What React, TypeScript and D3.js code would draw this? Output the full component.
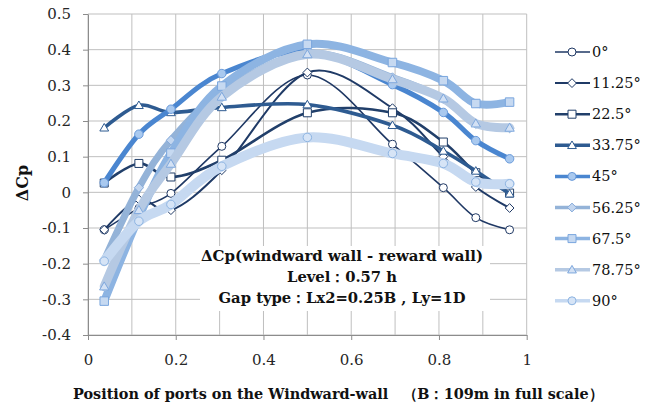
import { useEffect, useRef } from "react";
import * as d3 from "d3";

// port positions along the windward wall (x / B)
const portX = [0.037, 0.116, 0.189, 0.305, 0.5, 0.694, 0.81, 0.884, 0.961];

const angles = ["0°", "11.25°", "22.5°", "33.75°", "45°", "56.25°", "67.5°", "78.75°", "90°"];

const cp0 = [-0.105, -0.045, -0.003, 0.129, 0.329, 0.135, 0.013, -0.071, -0.105];
const cp11 = [-0.105, -0.02, -0.05, 0.062, 0.336, 0.236, 0.1, 0.015, -0.044];
const cp22 = [0.026, 0.081, 0.043, 0.09, 0.223, 0.223, 0.141, 0.055, -0.002];
const cp33 = [0.181, 0.244, 0.224, 0.238, 0.246, 0.188, 0.116, 0.06, -0.004];
const cp45 = [0.027, 0.163, 0.233, 0.333, 0.395, 0.302, 0.224, 0.145, 0.094];
const cp56 = [-0.19, 0.013, 0.146, 0.28, 0.39, 0.322, 0.262, 0.192, 0.18];
const cp67 = [-0.305, -0.07, 0.11, 0.298, 0.415, 0.364, 0.313, 0.249, 0.253];
const cp78 = [-0.264, -0.05, 0.08, 0.268, 0.387, 0.317, 0.263, 0.193, 0.181];
const cp90 = [-0.193, -0.081, -0.034, 0.073, 0.154, 0.109, 0.081, 0.029, 0.024];

const allSeries = [cp0, cp11, cp22, cp33, cp45, cp56, cp67, cp78, cp90];

const noteLines = [
	"ΔCp(windward wall - reward wall)",
	"Level：0.57 h",
	"Gap type：Lx2=0.25B , Ly=1D",
];
const xTitle = "Position of ports on the Windward-wall　（B：109m in full scale）";
const yTitle = "ΔCp";

type Shape = "circle" | "diamond" | "square" | "triangle";

const styles: { stroke: string; width: number; shape: Shape; fill: string; mstroke: string }[] = [
	{ stroke: "#1f3864", width: 1.6, shape: "circle", fill: "#fff", mstroke: "#1f3864" },
	{ stroke: "#1f3a66", width: 2, shape: "diamond", fill: "#fff", mstroke: "#1f3a66" },
	{ stroke: "#213f6a", width: 2.6, shape: "square", fill: "#fff", mstroke: "#213f6a" },
	{ stroke: "#2e5b91", width: 3.6, shape: "triangle", fill: "#fff", mstroke: "#2e5b91" },
	{ stroke: "#4a86d0", width: 5, shape: "circle", fill: "#a9c9ef", mstroke: "#6a9bdb" },
	{ stroke: "#94b3d8", width: 7, shape: "diamond", fill: "#c3d6ef", mstroke: "#86abdb" },
	{ stroke: "#8db4e2", width: 8, shape: "square", fill: "#c6d9f1", mstroke: "#7aa6de" },
	{ stroke: "#b5c9e3", width: 9, shape: "triangle", fill: "#d3e1f4", mstroke: "#7ea8de" },
	{ stroke: "#c6d9f1", width: 10, shape: "circle", fill: "#d6e4f6", mstroke: "#8db4e2" },
];

const serif = "'DejaVu Serif', 'Liberation Serif', serif";

function markerPath(shape: Shape, cx: number, cy: number, s: number) {
	const p = d3.path();
	if (shape === "circle") {
		p.arc(cx, cy, s * 0.5, 0, Math.PI * 2);
	} else if (shape === "square") {
		p.rect(cx - s / 2, cy - s / 2, s, s);
	} else if (shape === "diamond") {
		const r = s * 0.55;
		p.moveTo(cx, cy - r);
		p.lineTo(cx + r, cy);
		p.lineTo(cx, cy + r);
		p.lineTo(cx - r, cy);
		p.closePath();
	} else {
		const h = s * 0.9;
		p.moveTo(cx, cy - h * 0.6);
		p.lineTo(cx + s * 0.55, cy + h * 0.45);
		p.lineTo(cx - s * 0.55, cy + h * 0.45);
		p.closePath();
	}
	return p.toString();
}

export default function App() {
	const svgRef = useRef<SVGSVGElement>(null);

	useEffect(() => {
		if (!svgRef.current) return;
		const svg = d3.select(svgRef.current);
		svg.selectAll("*").remove();

		const margin = { left: 88, top: 14, right: 128.3, bottom: 70 };
		const W = 655;
		const H = 405;
		const width = W - margin.left - margin.right;
		const height = H - margin.top - margin.bottom;

		const x = d3.scaleLinear().domain([0, 1]).range([0, width]);
		const y = d3.scaleLinear().domain([-0.4, 0.5]).range([height, 0]);

		svg.append("rect").attr("width", W).attr("height", H).attr("fill", "#fff");

		const g = svg.append("g").attr("transform", `translate(${margin.left},${margin.top})`);

		// grid
		const gx = d3.range(0, 1.0001, 0.1);
		const gy = y.ticks(10);
		g.append("g")
			.selectAll("line")
			.data(gx)
			.join("line")
			.attr("x1", (d) => x(d))
			.attr("x2", (d) => x(d))
			.attr("y1", 0)
			.attr("y2", height)
			.attr("stroke", "#bfbfbf")
			.attr("stroke-width", 1);
		g.append("g")
			.selectAll("line")
			.data(gy)
			.join("line")
			.attr("x1", 0)
			.attr("x2", width)
			.attr("y1", (d) => y(d))
			.attr("y2", (d) => y(d))
			.attr("stroke", "#bfbfbf")
			.attr("stroke-width", 1);

		// axes
		const xAxis = d3
			.axisBottom(x)
			.tickValues(d3.range(0, 1.0001, 0.2))
			.tickSize(5)
			.tickSizeOuter(0)
			.tickPadding(14)
			.tickFormat((d) => {
				const v = +d;
				return v === 0 || v === 1 ? v.toFixed(0) : v.toFixed(1);
			});
		g.append("g")
			.attr("transform", `translate(0,${height})`)
			.call(xAxis)
			.call((a) => a.select(".domain").attr("stroke", "#8c8c8c"))
			.call((a) => a.selectAll(".tick line").attr("stroke", "#8c8c8c"))
			.call((a) =>
				a
					.selectAll(".tick text")
					.attr("fill", "#262626")
					.attr("font-size", "15px")
					.attr("font-family", serif)
			);

		const yAxis = d3
			.axisLeft(y)
			.tickValues(gy)
			.tickSize(5)
			.tickSizeOuter(0)
			.tickPadding(12)
			.tickFormat((d) => {
				const v = +d;
				return Math.abs(v) < 1e-9 ? "0" : v.toFixed(1);
			});
		g.append("g")
			.call(yAxis)
			.call((a) => a.select(".domain").attr("stroke", "#8c8c8c"))
			.call((a) => a.selectAll(".tick line").attr("stroke", "#8c8c8c"))
			.call((a) =>
				a
					.selectAll(".tick text")
					.attr("fill", "#262626")
					.attr("font-size", "15px")
					.attr("font-family", serif)
			);

		// series
		const line = d3
			.line<[number, number]>()
			.x((d) => x(d[0]))
			.y((d) => y(d[1]))
			.curve(d3.curveCatmullRom.alpha(0));

		allSeries.forEach((vals, i) => {
			const st = styles[i];
			const pts = vals.map((v, j) => [portX[j], v] as [number, number]);
			g.append("path")
				.datum(pts)
				.attr("fill", "none")
				.attr("stroke", st.stroke)
				.attr("stroke-width", st.width)
				.attr("stroke-linejoin", "round")
				.attr("stroke-linecap", "round")
				.attr("d", line);
			const size = i < 4 ? 8 : 8.5;
			g.append("g")
				.selectAll("path")
				.data(pts)
				.join("path")
				.attr("d", (d) => markerPath(st.shape, x(d[0]), y(d[1]), size))
				.attr("fill", st.fill)
				.attr("stroke", st.mstroke)
				.attr("stroke-width", 1);
		});

		// annotation box
		const note = svg.append("g");
		note.append("rect")
			.attr("x", 200)
			.attr("y", 246)
			.attr("width", 290)
			.attr("height", 65)
			.attr("fill", "#fff");
		const noteW = [282, 110, 247];
		const noteY = [261, 282, 303];
		noteLines.forEach((t, i) => {
			note.append("text")
				.attr("x", 342)
				.attr("y", noteY[i])
				.attr("text-anchor", "middle")
				.attr("font-family", serif)
				.attr("font-weight", "bold")
				.attr("font-size", "15px")
				.attr("fill", "#111")
				.attr("textLength", noteW[i])
				.attr("lengthAdjust", "spacingAndGlyphs")
				.text(t);
		});

		// titles
		svg.append("text")
			.attr("x", 338)
			.attr("y", 399)
			.attr("text-anchor", "middle")
			.attr("font-family", serif)
			.attr("font-weight", "bold")
			.attr("font-size", "15px")
			.attr("fill", "#111")
			.attr("textLength", 530)
			.attr("lengthAdjust", "spacingAndGlyphs")
			.text(xTitle);

		svg.append("text")
			.attr("transform", "translate(28,183) rotate(-90)")
			.attr("text-anchor", "middle")
			.attr("font-family", serif)
			.attr("font-weight", "bold")
			.attr("font-size", "16px")
			.attr("fill", "#111")
			.text(yTitle);

		// legend
		const lg = svg.append("g").attr("transform", "translate(555,52)");
		angles.forEach((name, i) => {
			const st = styles[i];
			const row = lg.append("g").attr("transform", `translate(0,${i * 31.1})`);
			row.append("line")
				.attr("x1", 0)
				.attr("x2", 35)
				.attr("stroke", st.stroke)
				.attr("stroke-width", Math.min(st.width, 3.5));
			row.append("path")
				.attr("d", markerPath(st.shape, 17, 0, 8))
				.attr("fill", st.fill)
				.attr("stroke", st.mstroke)
				.attr("stroke-width", 1);
			row.append("text")
				.attr("x", 37)
				.attr("y", 0)
				.attr("dy", "0.35em")
				.attr("font-family", serif)
				.attr("font-size", "14.5px")
				.attr("fill", "#111")
				.text(name);
		});
	}, []);

	return (
		<svg
			ref={svgRef}
			width={655}
			height={405}
			style={{ position: "absolute", left: 0, top: 0 }}
		/>
	);
}
